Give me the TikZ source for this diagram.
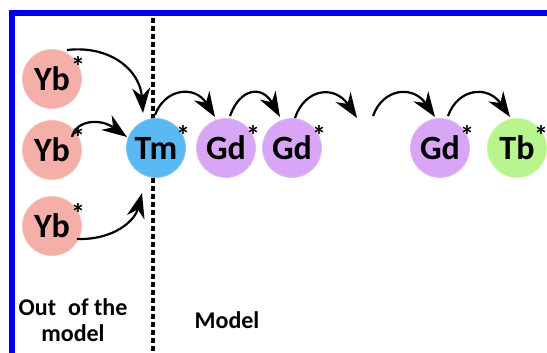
\documentclass[tikz,border=0pt]{standalone}
\usepackage{fontspec}
\setmainfont{Carlito}
\usetikzlibrary{arrows.meta,calc}
\definecolor{ybc}{HTML}{F4AFA8}
\definecolor{tmc}{HTML}{5AB9F2}
\definecolor{gdc}{HTML}{D9A6F5}
\definecolor{tbc}{HTML}{B9F58F}
\definecolor{frame}{HTML}{0000F0}
\tikzset{
  ion/.style={circle, fill=#1, draw=#1!80!white, line width=0.8pt, minimum size=59pt, inner sep=0pt,
    font=\fontsize{34}{34}\selectfont\bfseries, text=black},
  astk/.style={inner sep=0pt, font=\fontsize{28}{28}\selectfont\bfseries},
  hop/.style={line width=2.2pt, arrows={-Stealth[length=25pt,width=18pt,inset=8pt]}},
  caption/.style={font=\fontsize{24}{26}\selectfont\bfseries, align=center, inner sep=0pt},
  divider/.style={line width=3.2pt, dash pattern=on 5pt off 3pt}
}
\begin{document}
\begin{tikzpicture}[x=1pt,y=-1pt]
\useasboundingbox (0,0) rectangle (547,353);
\fill[white] (0,0) rectangle (547,353);
% frame
\draw[frame, line width=6pt] (12,353) -- (12,13) -- (547,13);
% divider
\coordinate (dtop) at (153,18);
\coordinate (dbot) at (153,353);
\draw[divider] (dtop) -- (dbot);
% ions
\node[ion=ybc] (yb1) at (52,79) {Yb};
\node[ion=ybc] (yb2) at (52,150) {Yb};
\node[ion=ybc] (yb3) at (52,226) {Yb};
\node[ion=tmc] (tm) at (156,148) {Tm};
\node[ion=gdc] (gd1) at (226,148) {Gd};
\node[ion=gdc] (gd2) at (292,148) {Gd};
\node[ion=gdc] (gd3) at (440,148) {Gd};
\node[ion=tbc] (tb) at (517,148) {Tb};
% asterisks
\node[astk] (s1) at ($(yb1)+(26,-13)$) {*};
\node[astk] (s2) at ($(yb2)+(26,-13)$) {*};
\node[astk] (s3) at ($(yb3)+(26,-13)$) {*};
\node[astk] (s4) at ($(tm)+(27,-13)$) {*};
\node[astk] (s5) at ($(gd1)+(27,-13)$) {*};
\node[astk] (s6) at ($(gd2)+(27,-13)$) {*};
\node[astk] (s7) at ($(gd3)+(27,-13)$) {*};
\node[astk] (s8) at ($(tb)+(24,-13)$) {*};
% free ends of the broken chain
\coordinate (gap1) at (357,118);
\coordinate (gap2) at (373,116);
% arrows into Tm
\draw[hop] ($(yb1)+(15,-29)$) .. controls (110,45) and (140,70) .. ($(tm)+(-13,-35)$);
\draw[hop] ($(yb2)+(20,-13)$) .. controls (76,120) and (100,118) .. ($(tm)+(-29,-11)$);
\draw[hop] ($(yb3)+(25,13)$) .. controls (115,240) and (135,220) .. ($(tm)+(-14,45)$);
% chain
\draw[hop] ($(tm)+(-1,-33)$) .. controls (165,88) and (195,85) .. ($(gd1)+(-11,-31)$);
\draw[hop] ($(gd1)+(4,-32)$) .. controls (240,88) and (262,85) .. ($(gd2)+(-12,-31)$);
\draw[hop] ($(gd2)+(3,-30)$) .. controls (305,88) and (335,85) .. (gap1);
\draw[hop] (gap2) .. controls (383,88) and (413,85) .. ($(gd3)+(-5,-31)$);
\draw[hop] ($(gd3)+(8,-32)$) .. controls (458,88) and (488,85) .. ($(tb)+(-7,-31)$);
% captions
\node[caption] (out) at (73,320) {Out\hspace{12pt}of the\\model};
\node[caption] (model) at (227,320) {Model};
\end{tikzpicture}
\end{document}
